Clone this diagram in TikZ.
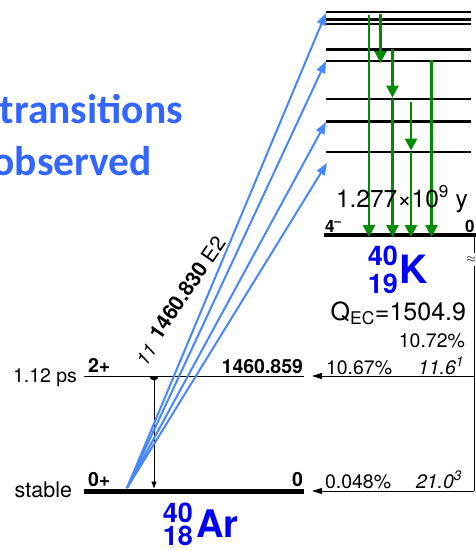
\documentclass[tikz,border=0pt]{standalone}
\usepackage{fontspec}
\setmainfont{TeX Gyre Heros}
\newfontfamily\calib{Carlito}
\usetikzlibrary{arrows.meta}
\definecolor{titleblue}{RGB}{51,102,255}
\definecolor{gblue}{RGB}{70,135,255}
\definecolor{ggreen}{RGB}{0,140,0}
\definecolor{nucblue}{RGB}{0,0,245}
\newcommand\fs[1]{\fontsize{#1}{#1}\selectfont}
\tikzset{
  klevel/.style={line width=2.2pt},
  kground/.style={line width=4pt},
  arthin/.style={line width=1pt},
  arthick/.style={line width=5pt},
  greenarrow/.style={draw=ggreen, line width=2.7pt, -{Triangle[length=12pt,width=12pt]}},
  bluearrow/.style={draw=gblue, line width=2pt, -{Triangle[length=12pt,width=9pt]}},
  feed/.style={line width=0.9pt, -{Triangle[length=10pt,width=6pt]}},
  gam/.style={line width=0.9pt, -{Triangle[length=7pt,width=5pt]}},
  txt/.style={inner sep=0pt, outer sep=0pt},
}
\begin{document}
\begin{tikzpicture}[x=1pt,y=-1pt]
\useasboundingbox (0,0) rectangle (476,550);
\clip (0,0) rectangle (476,550);

% title text
\node[txt, anchor=base east, font=\calib\bfseries\fs{41.5}, text=titleblue] (t1) at (183,123) {transitions};
\node[txt, anchor=base east, font=\calib\bfseries\fs{41.5}, text=titleblue] (t2) at (152,175) {observed};

% K excited levels
\foreach \y/\n in {12/1,19.5/2,24/3,49.5/4,61/5,99/6,121.5/7,152/8} {
  \coordinate (kL\n) at (326,\y);
  \coordinate (kR\n) at (471,\y);
  \draw[klevel] (kL\n) -- (kR\n);
}
% K ground level
\coordinate (kg1) at (324,235);
\coordinate (kg2) at (478,235);
\draw[kground] (kg1) -- (kg2);

% green transitions
\coordinate (gA1) at (369,15);   \coordinate (gA2) at (369,237);
\coordinate (gB1) at (380.5,14); \coordinate (gB2) at (380.5,63);
\coordinate (gC1) at (392.5,49); \coordinate (gC2) at (392.5,97.5);
\coordinate (gC3) at (392.5,99); \coordinate (gC4) at (392.5,237);
\coordinate (gD1) at (411,102);  \coordinate (gD2) at (411,150.5);
\coordinate (gD3) at (411,152);  \coordinate (gD4) at (411,237);
\coordinate (gE1) at (431.5,59.5); \coordinate (gE2) at (431.5,237);
\draw[greenarrow] (gA1) -- (gA2);
\draw[greenarrow] (gB1) -- (gB2);
\draw[greenarrow] (gC1) -- (gC2);
\draw[greenarrow] (gC3) -- (gC4);
\draw[greenarrow] (gD1) -- (gD2);
\draw[greenarrow] (gD3) -- (gD4);
\draw[greenarrow] (gE1) -- (gE2);

% K labels
\node[txt, anchor=base east, font=\fs{24.5}] (khl) at (468,207) {1.277×10\textsuperscript{9} y};
\node[txt, anchor=base west, font=\bfseries\fs{17}] (kspin) at (325,232) {4\textsuperscript{\textendash}};
\node[txt, anchor=base west, font=\bfseries\fs{17}] (ken) at (465,232) {0};
\node[txt, anchor=base east, font=\bfseries\fs{27}, text=nucblue] (kA) at (398,265) {40};
\node[txt, anchor=base east, font=\bfseries\fs{27}, text=nucblue] (kZ) at (398,293) {19};
\node[txt, anchor=base west, font=\bfseries\fs{39}, text=nucblue] (kK) at (399,283) {K};
\node[txt, anchor=base east, font=\fs{25}] (qec) at (466,320) {Q\textsubscript{EC}=1504.9};
\node[txt, anchor=base east, font=\fs{19.5}] (pct) at (465,347) {10.72\%};

% right feeding line with break
\coordinate (r1) at (474,235);
\coordinate (r2) at (474,253);
\coordinate (r3) at (474,266);
\coordinate (r4) at (474,491);
\draw[line width=0.9pt] (r1) -- (r2);
\draw[line width=0.9pt] (r3) -- (r4);
\node[txt, font=\fs{13}] (brk) at (471,260) {$\approx$};
\coordinate (f2a) at (474,376);
\coordinate (f2b) at (312,376);
\coordinate (f0b) at (312,491);
\draw[feed] (f2a) -- (f2b);
\draw[feed] (r4) -- (f0b);

% Ar levels
\coordinate (a2L) at (84,376);  \coordinate (a2R) at (304,376);
\coordinate (a0L) at (84,491);  \coordinate (a0R) at (304,491);
\draw[arthin] (a2L) -- (a2R);
\draw[arthick] (a0L) -- (a0R);

% gamma 2+ -> 0+
\coordinate (g1) at (154,376);
\coordinate (g2) at (154,488.5);
\fill (g1) ++(-4.5pt,0pt) arc[start angle=180, end angle=360, radius=4.5pt] -- cycle;
\draw[gam] (g1) -- (g2);

% blue transitions
\coordinate (O) at (127,488);
\coordinate (b1) at (326,13);
\coordinate (b2) at (326,61);
\coordinate (b3) at (326,122);
\coordinate (b4) at (327,163);
\draw[bluearrow] (O) -- (b1);
\draw[bluearrow] (O) -- (b2);
\draw[bluearrow] (O) -- (b3);
\draw[bluearrow] (O) -- (b4);

% gamma labels
\coordinate (gl0) at (160,341);
\coordinate (gl1) at (146,367);
\node[txt, anchor=base west, rotate=55.5, font=\fs{21}] (glab) at (gl0) {\bfseries 1460.830\ \mdseries E2};
\node[txt, anchor=base west, rotate=55.5, font=\itshape\fs{19}] (gint) at (gl1) {11};

% Ar labels
\node[txt, anchor=base west, font=\bfseries\fs{19.5}] (spin2) at (88,372) {2+};
\node[txt, anchor=base west, font=\bfseries\fs{19.5}] (spin0) at (88,486) {0+};
\node[txt, anchor=base east, font=\fs{19.5}] (hl2) at (77,382) {1.12 ps};
\node[txt, anchor=base east, font=\fs{21.5}] (hl0) at (72,497) {stable};
\node[txt, anchor=base east, font=\bfseries\fs{19.5}] (e2) at (303,373) {1460.859};
\node[txt, anchor=base east, font=\bfseries\fs{19.5}] (e0) at (303,486) {0};
\node[txt, anchor=base west, font=\fs{19.5}] (i2) at (326,374) {10.67\%};
\node[txt, anchor=base west, font=\itshape\fs{19.5}] (l2) at (418,374) {11.6\textsuperscript{1}};
\node[txt, anchor=base west, font=\fs{19.5}] (i0) at (325,488) {0.048\%};
\node[txt, anchor=base west, font=\itshape\fs{19.5}] (l0) at (416,488) {21.0\textsuperscript{3}};
\node[txt, anchor=base east, font=\bfseries\fs{27}, text=nucblue] (arA) at (193,522) {40};
\node[txt, anchor=base east, font=\bfseries\fs{27}, text=nucblue] (arZ) at (193,545) {18};
\node[txt, anchor=base west, font=\bfseries\fs{38}, text=nucblue] (arS) at (196,537) {Ar};
\end{tikzpicture}
\end{document}
